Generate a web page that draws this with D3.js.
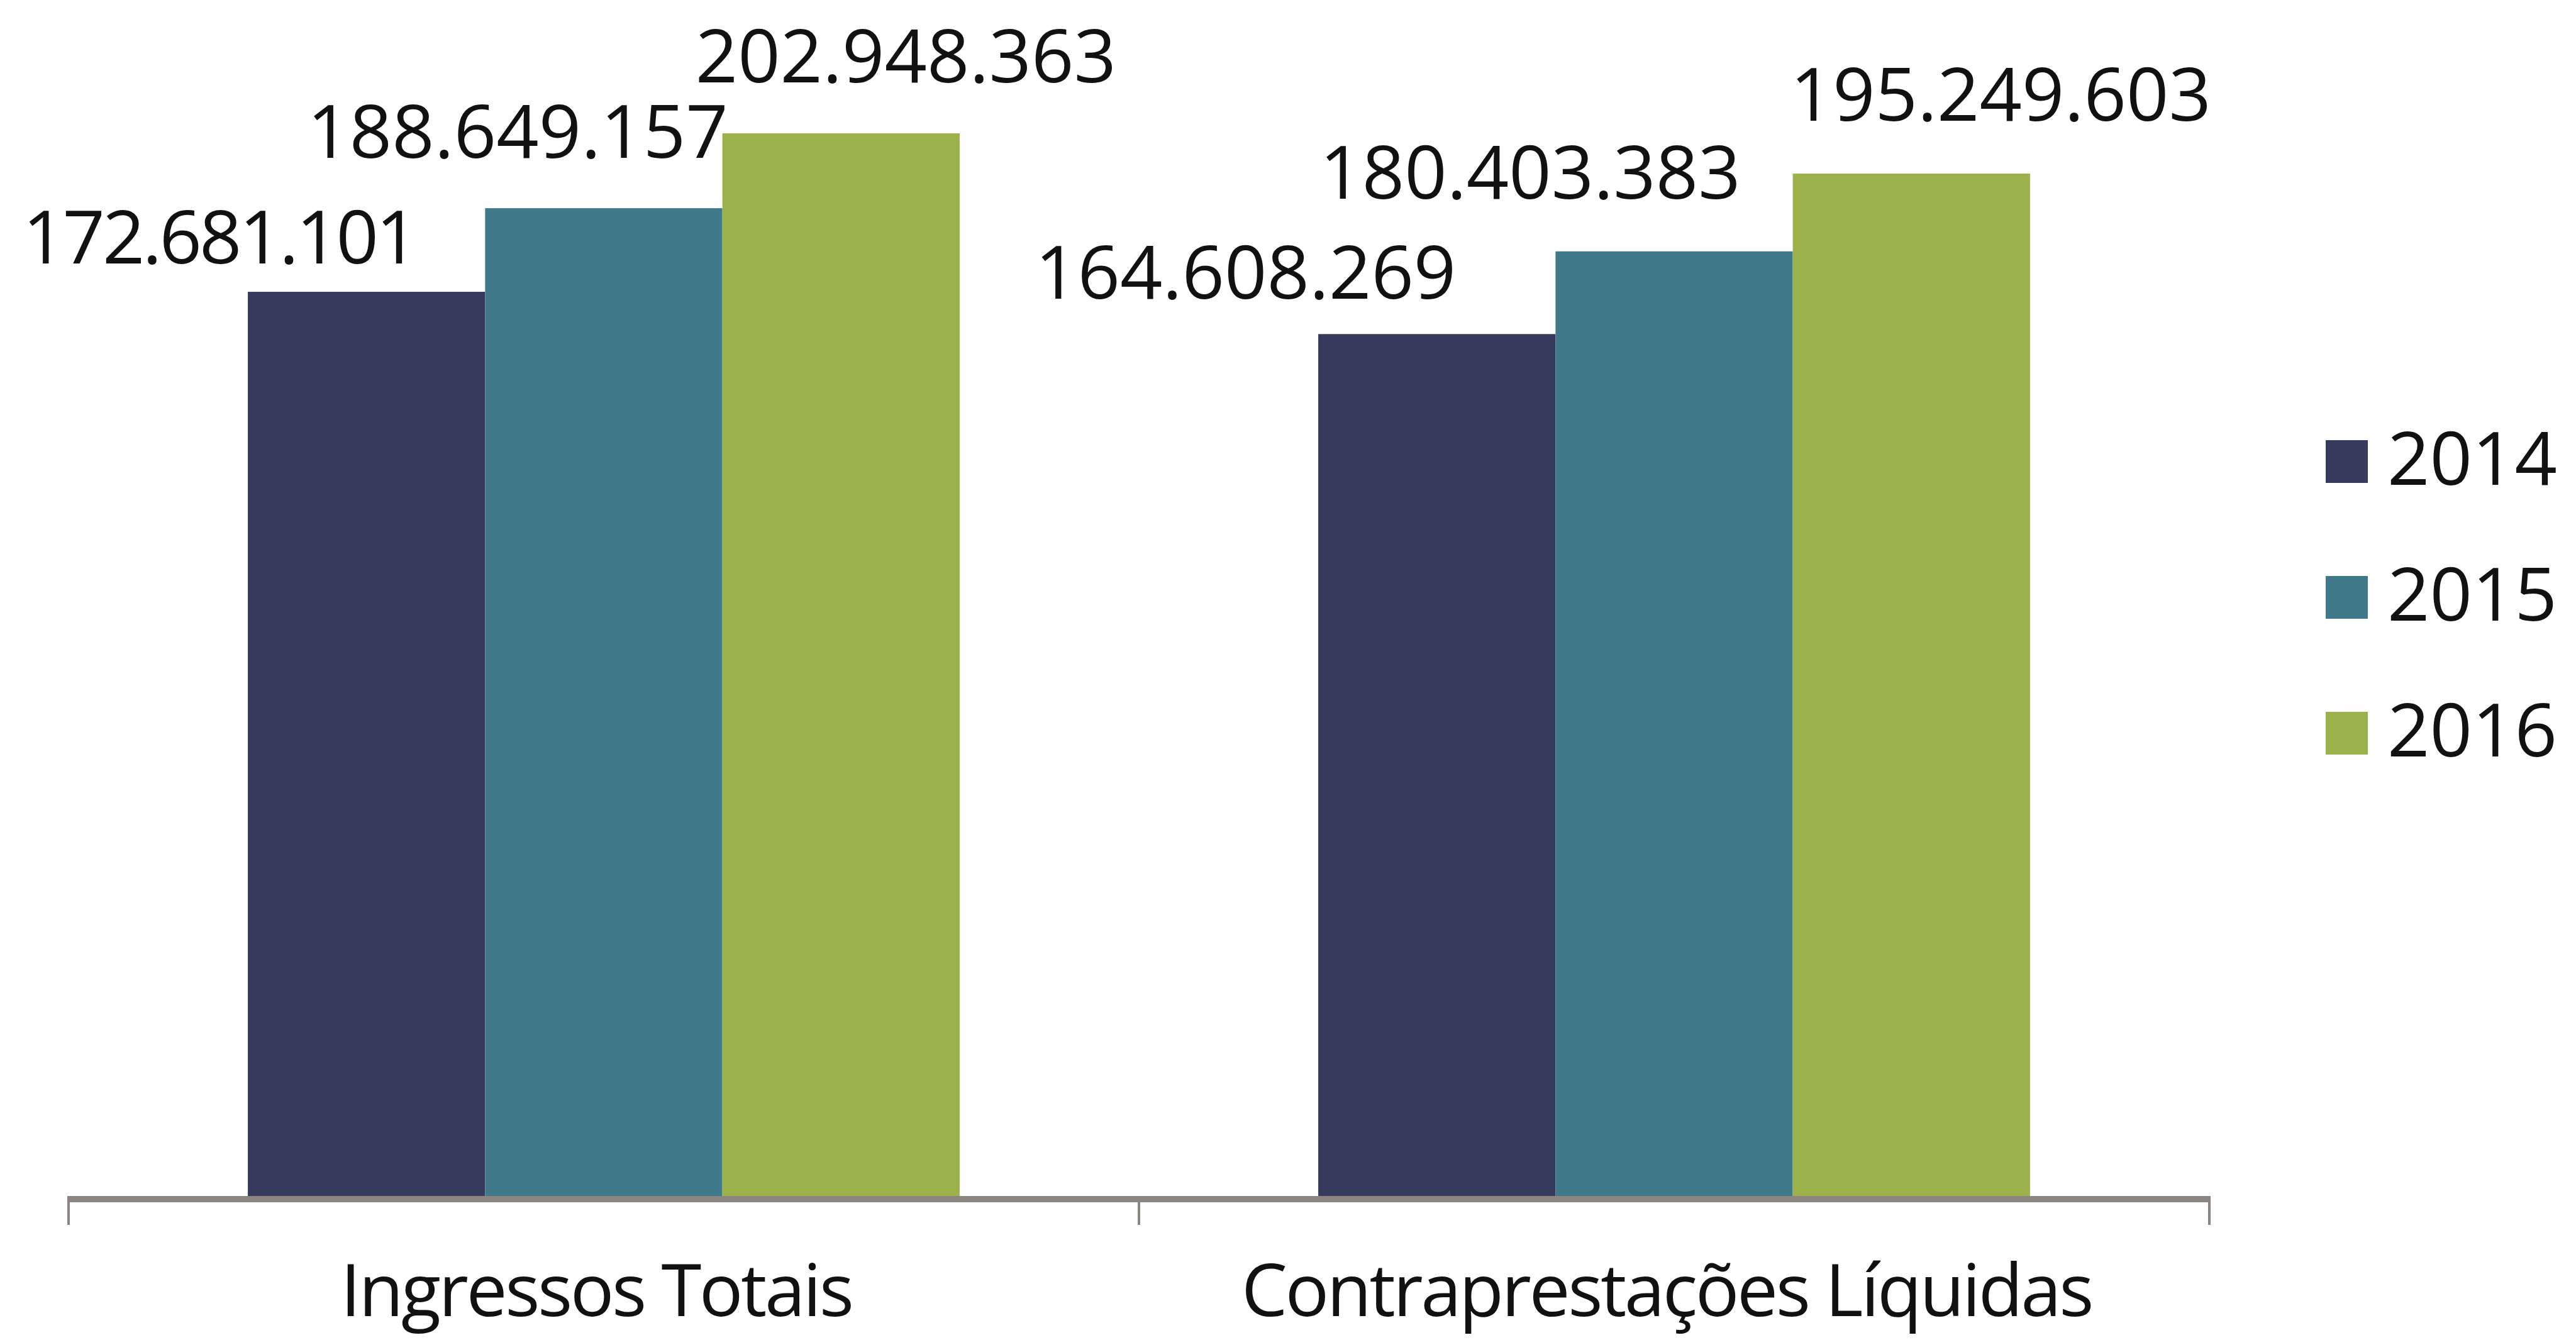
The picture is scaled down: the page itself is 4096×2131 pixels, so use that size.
<!DOCTYPE html>
<html>
<head>
<meta charset="utf-8">
<script src="https://cdn.jsdelivr.net/npm/d3@7"></script>
<style>
  html, body { margin: 0; padding: 0; background: #ffffff; }
  svg { display: block; }
  text { font-family: "Open Sans", "Noto Sans", sans-serif; fill: #111111; }
</style>
</head>
<body>
<script>
// Categories, series and values
const categories = ["Ingressos Totais", "Contraprestações Líquidas"];
const years = ["2014", "2015", "2016"];
const values2014 = [172681101, 164608269];
const values2015 = [188649157, 180403383];
const values2016 = [202948363, 195249603];
const valueLabels2014 = ["172.681.101", "164.608.269"];
const valueLabels2015 = ["188.649.157", "180.403.383"];
const valueLabels2016 = ["202.948.363", "195.249.603"];
const colors = ["#363b5e", "#3f798a", "#9bb24a"];

const W = 4096, H = 2131;

// Hand-placed label nudges (px) relative to each bar's top centre: [dx, dy]
const labelNudge = {
  "2014": [[-234, -45], [-304, -56]],
  "2015": [[-137, -80], [-229, -84]],
  "2016": [[103, -81], [142, -84]]
};

const seriesValues = { "2014": values2014, "2015": values2015, "2016": values2016 };
const seriesLabels = { "2014": valueLabels2014, "2015": valueLabels2015, "2016": valueLabels2016 };

const rows = [];
categories.forEach((c, i) => {
  years.forEach(yr => {
    rows.push({ cat: c, ci: i, year: yr, value: seriesValues[yr][i], label: seriesLabels[yr][i] });
  });
});

const svg = d3.select("body").append("svg").attr("width", W).attr("height", H);

const x0 = d3.scaleBand().domain(categories).range([109, 3513])
  .paddingInner(0.335).paddingOuter(0.1675);
const x1 = d3.scaleBand().domain(years).range([0, x0.bandwidth()]);
const y = d3.scaleLinear().domain([0, 220e6]).range([1902, 70]);
const color = d3.scaleOrdinal().domain(years).range(colors);

// Bars
svg.append("g").selectAll("rect").data(rows).join("rect")
  .attr("x", d => x0(d.cat) + x1(d.year))
  .attr("y", d => y(d.value))
  .attr("width", x1.bandwidth())
  .attr("height", d => y(0) - y(d.value))
  .attr("fill", d => color(d.year));

// Category axis: baseline with ticks at band boundaries
const step = x0.step();
const left = x0.range()[0], right = x0.range()[1];
const axisY = y(0) + 5;
const ax = svg.append("g");
ax.append("line")
  .attr("x1", left - 2).attr("x2", right + 2)
  .attr("y1", axisY).attr("y2", axisY)
  .attr("stroke", "#8a8580").attr("stroke-width", 10);
const tickXs = d3.range(categories.length + 1).map(i => left + i * step);
ax.selectAll("line.tick").data(tickXs).join("line")
  .attr("class", "tick")
  .attr("x1", d => d).attr("x2", d => d)
  .attr("y1", axisY).attr("y2", 1948)
  .attr("stroke", "#8a8580").attr("stroke-width", 4);

// Category labels
svg.append("g").selectAll("text").data(categories).join("text")
  .attr("x", d => x0(d) + x0.bandwidth() / 2 - 12)
  .attr("y", 2093)
  .attr("text-anchor", "middle")
  .attr("font-size", 116)
  .attr("letter-spacing", "-3.5px")
  .text(d => d);

// Value labels
svg.append("g").selectAll("text").data(rows).join("text")
  .attr("x", d => x0(d.cat) + x1(d.year) + x1.bandwidth() / 2 + labelNudge[d.year][d.ci][0])
  .attr("y", d => y(d.value) + labelNudge[d.year][d.ci][1])
  .attr("text-anchor", "middle")
  .attr("font-size", 118)
  .attr("letter-spacing", d => d.label.split("1").length > 3 ? "-4px" : "0px")
  .text(d => d.label);

// Legend
const lg = svg.append("g").attr("transform", "translate(3698,700)");
const item = lg.selectAll("g").data(years).join("g")
  .attr("transform", (d, i) => `translate(0,${i * 216})`);
item.append("rect").attr("width", 67).attr("height", 68).attr("fill", d => color(d));
item.append("text").attr("x", 98).attr("y", 71).attr("font-size", 118).text(d => d);
</script>
</body>
</html>
